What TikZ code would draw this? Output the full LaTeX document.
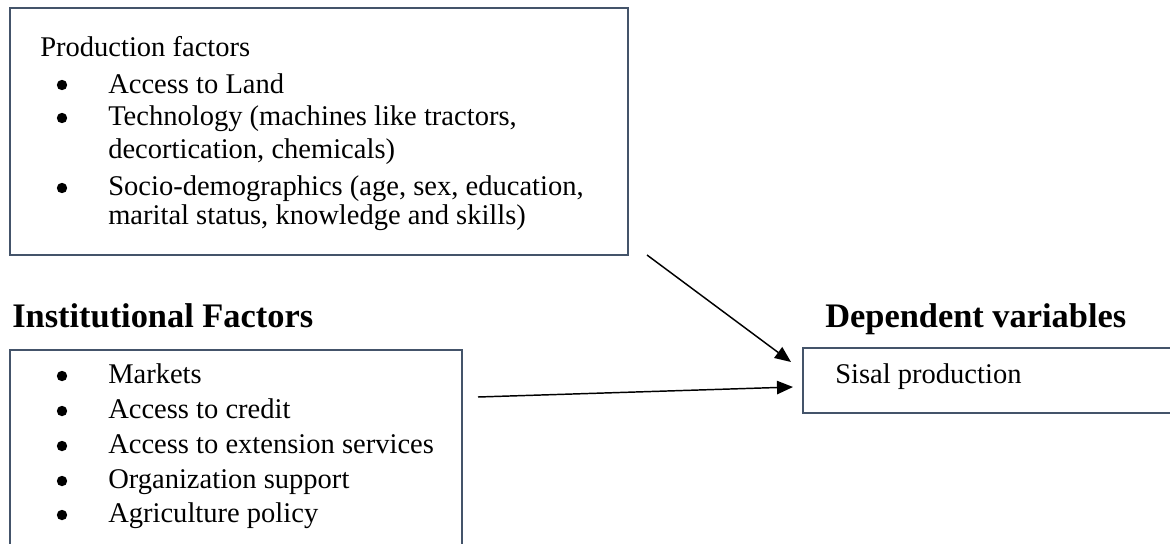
\documentclass[tikz,border=0pt]{standalone}
\usepackage{fontspec}
\setmainfont{Liberation Serif}
\usetikzlibrary{arrows.meta}
\definecolor{boxline}{RGB}{68,84,106}
\tikzset{
  box/.style={draw=boxline, line width=1.8pt, inner sep=0pt, fill=none},
  txt/.style={anchor=base west, inner sep=0pt, font=\fontsize{21.4pt}{24pt}\selectfont},
  head/.style={anchor=base west, inner sep=0pt, font=\fontsize{25.8pt}{30pt}\selectfont\bfseries},
  bul/.style={circle, fill=black, inner sep=0pt, minimum size=7.8pt},
  conn/.style={draw=black, line width=1.1pt, -{Triangle[length=12pt,width=10pt]}}
}
\begin{document}
\begin{tikzpicture}[x=0.75pt,y=-0.75pt]
\useasboundingbox (0,0) rectangle (1170,543);
\clip (0,0) rectangle (1170,543);
% boxes
\node[box, minimum width=463.5pt, minimum height=185.25pt] (prod) at (319,131.5) {};
\node[box, minimum width=339pt, minimum height=165pt] (inst) at (236,460) {};
\node[box, minimum width=282.75pt, minimum height=48.75pt] (dep) at (991.5,380.5) {};
% production factors
\node[txt] (p0) at (40,56) {Production factors};
\node[bul] (pb1) at (62,85) {};
\node[txt] (p1) at (108,93) {Access to Land};
\node[bul] (pb2) at (62,118) {};
\node[txt] (p2) at (108,125) {Technology (machines like tractors,};
\node[txt] (p2b) at (108,158) {decortication, chemicals)};
\node[bul] (pb3) at (62,188) {};
\node[txt] (p3) at (108,195) {Socio-demographics (age, sex, education,};
\node[txt] (p3b) at (108,224) {marital status, knowledge and skills)};
% institutional
\node[head] (ih) at (12,327) {Institutional Factors};
\node[bul] (ib1) at (62,376) {};
\node[txt] (i1) at (108,383) {Markets};
\node[bul] (ib2) at (62,411) {};
\node[txt] (i2) at (108,418) {Access to credit};
\node[bul] (ib3) at (62,446) {};
\node[txt] (i3) at (108,453) {Access to extension services};
\node[bul] (ib4) at (62,481) {};
\node[txt] (i4) at (108,488) {Organization support};
\node[bul] (ib5) at (62,515) {};
\node[txt] (i5) at (108,522) {Agriculture policy};
% dependent
\node[head] (dh) at (825,327) {Dependent variables};
\node[txt] (d1) at (835,383) {Sisal production};
% connectors
\coordinate (a1s) at (647,255);
\coordinate (a1e) at (791,362);
\coordinate (a2s) at (478,397);
\coordinate (a2e) at (793,387);
\draw[conn] (a1s) -- (a1e);
\draw[conn] (a2s) -- (a2e);
\end{tikzpicture}
\end{document}
